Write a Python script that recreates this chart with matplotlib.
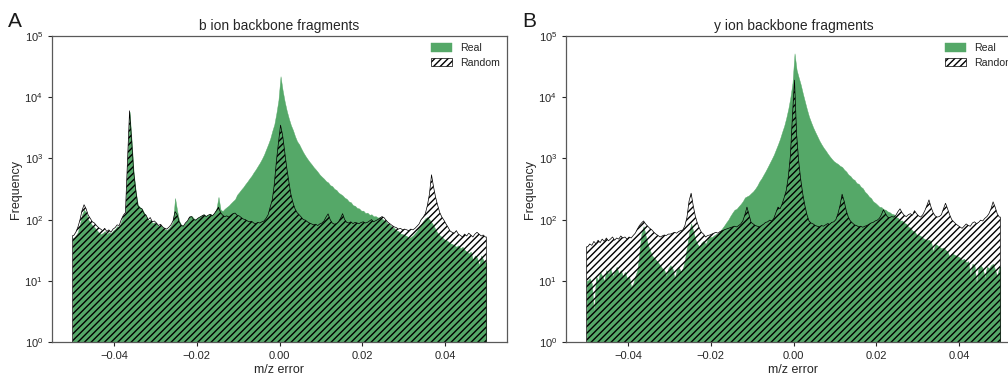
import numpy as np
import matplotlib
matplotlib.use("Agg")
import matplotlib.pyplot as plt
from matplotlib.ticker import NullLocator, FixedLocator

# Histogram counts per 0.0005 m/z bin, from -0.05 to 0.05 (200 bins)
real_b = [
    50, 55, 62, 85, 120, 145, 130, 100, 90, 80, 75, 68, 62, 58, 60, 65, 58, 62, 60, 66,
    70, 78, 76, 95, 112, 125, 880, 5800, 1950, 580, 290, 175, 160, 150, 130, 112, 98, 100, 88, 90,
    85, 78, 82, 74, 70, 68, 72, 80, 92, 225, 140, 95, 82, 80, 90, 98, 112, 115, 105, 100,
    108, 112, 118, 122, 115, 120, 125, 118, 130, 150, 235, 145, 138, 150, 160, 170, 185, 200, 215, 255,
    280, 310, 340, 380, 420, 470, 520, 590, 660, 750, 850, 980, 1150, 1400, 1700, 2100, 2800, 3600, 5500, 9000,
    22000, 13000, 8500, 6000, 4500, 3500, 2900, 2300, 1900, 1700, 1450, 1250, 1100, 980, 880, 800, 720, 660, 600, 540,
    500, 465, 425, 405, 365, 352, 318, 305, 276, 262, 248, 228, 218, 198, 192, 172, 168, 155, 152, 140,
    140, 128, 130, 120, 122, 113, 114, 108, 110, 104, 98, 94, 84, 82, 75, 73, 66, 65, 59, 58,
    56, 54, 50, 52, 55, 60, 66, 75, 85, 95, 105, 110, 100, 90, 80, 68, 60, 55, 52, 48,
    46, 44, 41, 40, 38, 36, 38, 34, 36, 32, 30, 28, 30, 22, 26, 24, 18, 26, 22, 20,
]
rand_b = [
    55, 62, 75, 98, 140, 175, 150, 118, 105, 92, 88, 80, 74, 70, 66, 72, 64, 68, 62, 70,
    74, 82, 80, 100, 118, 130, 900, 6000, 2000, 600, 300, 170, 155, 150, 125, 118, 100, 108, 92, 95,
    88, 80, 84, 76, 72, 70, 75, 82, 95, 135, 120, 92, 80, 78, 88, 95, 110, 112, 100, 98,
    105, 110, 115, 120, 112, 118, 122, 115, 125, 140, 160, 130, 118, 112, 115, 110, 118, 125, 128, 118,
    115, 108, 102, 100, 95, 92, 94, 88, 86, 90, 88, 92, 95, 105, 120, 160, 210, 380, 900, 1800,
    3500, 2400, 1300, 700, 420, 260, 190, 150, 130, 120, 110, 100, 98, 92, 88, 85, 82, 84, 80, 85,
    88, 95, 110, 124, 100, 88, 84, 86, 92, 105, 125, 100, 90, 88, 92, 86, 90, 88, 86, 90,
    92, 88, 90, 95, 100, 92, 96, 100, 105, 112, 108, 98, 90, 85, 80, 76, 74, 70, 72, 68,
    70, 68, 66, 70, 68, 72, 78, 85, 100, 110, 125, 170, 260, 540, 340, 230, 170, 130, 110, 98,
    85, 75, 65, 62, 60, 66, 58, 55, 52, 58, 54, 60, 56, 52, 58, 62, 58, 54, 56, 52,
]
real_y = [
    10, 11, 9, 3, 12, 10, 14, 12, 10, 15, 13, 16, 12, 14, 17, 13, 15, 12, 14, 11,
    12, 8, 9, 12, 15, 30, 60, 78, 55, 40, 32, 26, 24, 22, 20, 18, 16, 15, 12, 16,
    18, 16, 11, 15, 17, 14, 16, 22, 36, 60, 87, 65, 48, 40, 36, 42, 45, 40, 48, 52,
    52, 55, 58, 60, 65, 72, 80, 90, 100, 115, 130, 145, 150, 165, 180, 200, 230, 240, 250, 270,
    290, 320, 360, 420, 470, 540, 620, 720, 840, 980, 1150, 1400, 1700, 2100, 2700, 3400, 4600, 6500, 10000, 17000,
    52000, 28000, 21000, 16000, 11500, 8500, 6300, 4800, 3900, 3200, 2700, 2300, 1950, 1700, 1500, 1350, 1200, 1080, 980, 900,
    850, 810, 755, 725, 655, 610, 545, 515, 465, 445, 395, 385, 345, 325, 285, 265, 238, 224, 198, 188,
    175, 162, 160, 148, 145, 136, 132, 124, 122, 110, 107, 96, 97, 88, 86, 76, 74, 66, 64, 57,
    56, 54, 50, 48, 46, 47, 44, 30, 40, 38, 36, 34, 35, 32, 30, 24, 28, 27, 26, 25,
    24, 22, 23, 20, 21, 12, 19, 18, 9, 17, 18, 16, 11, 17, 16, 18, 19, 15, 12, 17,
]
rand_y = [
    36, 40, 38, 44, 40, 46, 42, 48, 44, 50, 45, 48, 52, 46, 50, 48, 54, 50, 52, 48,
    52, 50, 55, 60, 70, 80, 88, 95, 85, 78, 72, 68, 62, 58, 55, 52, 54, 56, 55, 58,
    58, 60, 62, 60, 64, 66, 68, 80, 110, 200, 270, 170, 115, 88, 72, 62, 58, 52, 55, 56,
    58, 60, 62, 60, 64, 66, 68, 70, 72, 74, 76, 78, 76, 80, 85, 95, 120, 160, 120, 90,
    85, 80, 78, 76, 80, 84, 90, 92, 98, 95, 105, 130, 160, 150, 180, 230, 300, 500, 1100, 5000,
    19000, 2500, 900, 450, 260, 170, 120, 95, 88, 85, 80, 78, 76, 80, 78, 82, 86, 84, 90, 92,
    100, 125, 170, 260, 200, 140, 110, 95, 88, 82, 80, 76, 78, 75, 78, 80, 84, 88, 90, 95,
    98, 105, 120, 145, 125, 110, 108, 112, 110, 118, 135, 150, 130, 118, 112, 120, 125, 118, 140, 125,
    115, 110, 120, 140, 170, 210, 160, 130, 115, 110, 112, 120, 150, 185, 150, 120, 100, 92, 85, 80,
    76, 72, 78, 85, 80, 78, 88, 92, 86, 90, 98, 95, 105, 112, 125, 150, 195, 160, 125, 110,
]
titles = ["b ion backbone fragments", "y ion backbone fragments"]
panel_letters = ["A", "B"]
x_ticks = [-0.04, -0.02, 0.00, 0.02, 0.04]
x_tick_labels = ["\u22120.04", "\u22120.02", "0.00", "0.02", "0.04"]

plt.rcParams.update({
    "font.family": ["Liberation Sans", "DejaVu Sans"],
    "mathtext.fontset": "custom",
    "mathtext.rm": "Liberation Sans",
    "mathtext.it": "Liberation Sans:italic",
    "mathtext.bf": "Liberation Sans:bold",
    "hatch.linewidth": 1.0,
    "axes.edgecolor": "0.35",
    "axes.linewidth": 0.9,
    "text.color": "0.15",
    "axes.labelcolor": "0.15",
})

edges = np.linspace(-0.05, 0.05, len(real_b) + 1)
centers = 0.5 * (edges[:-1] + edges[1:])
# outline points: bin centres, closed at the outer bin edges
outline_x = np.concatenate([[edges[0]], centers, [edges[-1]]])


def outline(counts):
    c = np.asarray(counts, dtype=float)
    return np.concatenate([[c[0]], c, [c[-1]]])


W, H = 1008, 375
fig = plt.figure(figsize=(W / 100, H / 100), dpi=100)
ax_a = fig.add_axes([52 / W, 1 - 342 / H, 455 / W, 306 / H])
ax_b = fig.add_axes([566 / W, 1 - 342 / H, 455 / W, 306 / H])

for ax, real, rand, title, letter in zip(
        [ax_a, ax_b], [real_b, real_y], [rand_b, rand_y], titles, panel_letters):
    ax.set_yscale("log")
    ax.fill_between(outline_x, outline(real), 0.1, facecolor="#55a868",
                    edgecolor="#55a868", linewidth=0.3, label="Real")
    ax.fill_between(outline_x, outline(rand), 0.1, facecolor="none",
                    hatch="/////", edgecolor="black", linewidth=0.5,
                    label="Random")
    ax.set_ylim(1, 1e5)
    ax.set_xlim(-0.055, 0.055)
    ax.xaxis.set_major_locator(FixedLocator(x_ticks))
    ax.set_xticklabels(x_tick_labels)
    ax.yaxis.set_minor_locator(NullLocator())
    ax.tick_params(direction="out", length=3, width=0.8, labelsize=8,
                   colors="0.15")
    ax.set_title(title, fontsize=10, pad=4)
    ax.set_xlabel("m/z error", fontsize=9, labelpad=2)
    ax.set_ylabel("Frequency", fontsize=9, labelpad=2)
    ax.legend(loc="upper right", frameon=False, fontsize=7.6,
              handlelength=2.0, handleheight=0.9, handletextpad=0.75,
              labelspacing=0.45, borderaxespad=0.25)
    pos = ax.get_position()
    fig.text(pos.x0 - 44 / W, 1 - 21.5 / H, letter, fontsize=15, color="0.1",
             ha="left", va="center")

fig.savefig("out.png", dpi=100)
